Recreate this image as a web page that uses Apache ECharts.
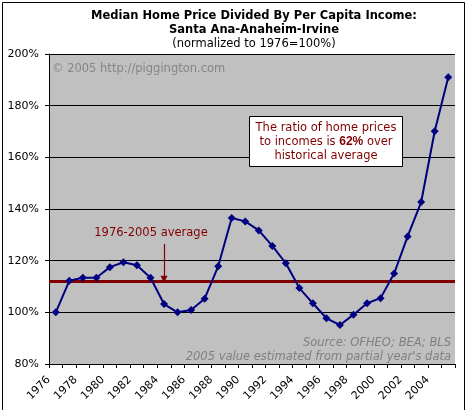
<!DOCTYPE html>
<html>
<head>
<meta charset="utf-8">
<title>Median Home Price Divided By Per Capita Income</title>
<script src="https://cdn.jsdelivr.net/npm/echarts@6/dist/echarts.min.js"></script>
<style>
  html, body { margin: 0; padding: 0; background: #fff; }
  #chart { width: 465px; height: 410px; }
</style>
</head>
<body>
<div id="chart"></div>
<script type="text/javascript">
    // data
    var years = ['1976', '1977', '1978', '1979', '1980', '1981', '1982', '1983', '1984', '1985',
                 '1986', '1987', '1988', '1989', '1990', '1991', '1992', '1993', '1994', '1995',
                 '1996', '1997', '1998', '1999', '2000', '2001', '2002', '2003', '2004', '2005'];
    var ratio = [100.0, 112.2, 113.4, 113.4, 117.5, 119.4, 118.2, 113.4, 103.2, 100.0,
                 100.9, 105.3, 117.8, 136.5, 135.2, 131.7, 125.7, 119.0, 109.4, 103.5,
                 97.7, 95.1, 99.1, 103.5, 105.5, 115.0, 129.4, 142.7, 170.1, 191.0];
    var average = 112.2;
    var yTicks = { min: 80, max: 200, step: 20 };

    var font = 'DejaVu Sans, Verdana, sans-serif';
    var chart = echarts.init(document.getElementById('chart'));

    var option = {
      backgroundColor: '#ffffff',
      animation: false,
      title: {
        text: 'Median Home Price Divided By Per Capita Income:\nSanta Ana-Anaheim-Irvine',
        subtext: '(normalized to 1976=100%)',
        left: 249,
        top: 4,
        textAlign: 'center',
        itemGap: 0,
        textStyle: { fontFamily: font, fontSize: 11.5, fontWeight: 'bold', color: '#000', lineHeight: 14 },
        subtextStyle: { fontFamily: font, fontSize: 11.5, color: '#000', lineHeight: 14 }
      },
      grid: { left: 49, top: 54, width: 406, height: 310, show: true, backgroundColor: '#c0c0c0', borderWidth: 0 },
      xAxis: {
        type: 'category',
        data: years,
        boundaryGap: true,
        axisLine: { lineStyle: { color: '#000', width: 1 } },
        axisTick: { show: true, interval: 0, length: 4, lineStyle: { color: '#000' } },
        axisLabel: { interval: 1, rotate: 45, margin: 7, padding: [0, 10, 0, 0], fontFamily: font, fontSize: 11, color: '#000' },
        splitLine: { show: false }
      },
      yAxis: {
        type: 'value',
        min: yTicks.min,
        max: yTicks.max,
        interval: yTicks.step,
        axisLine: { show: true, lineStyle: { color: '#000', width: 1 } },
        axisTick: { show: true, length: 4, lineStyle: { color: '#000' } },
        axisLabel: { formatter: '{value}%', margin: 10, fontFamily: font, fontSize: 11, color: '#000' },
        splitLine: { show: true, lineStyle: { color: '#000', width: 1 } }
      },
      series: [{
        type: 'line',
        data: ratio,
        symbol: 'diamond',
        symbolSize: 8,
        lineStyle: { color: '#000080', width: 2 },
        itemStyle: { color: '#000080' },
        z: 3,
        markLine: {
          silent: true,
          symbol: 'none',
          label: { show: false },
          z: 2,
          data: [
            // historical average
            { yAxis: average, lineStyle: { color: '#800000', width: 3, type: 'solid' } },
            // arrow pointing at the average
            [
              { coord: ['1984', 126.5], symbol: 'none', lineStyle: { color: '#800000', width: 1.2, type: 'solid' } },
              { coord: ['1984', average + 0.6], symbol: 'triangle', symbolSize: [7, 7], symbolRotate: 180 }
            ]
          ]
        }
      }],
      graphic: [
        // outer frame
        { type: 'rect', left: 0, top: 0, shape: { x: 0.5, y: 0.5, width: 462, height: 408.5 },
          style: { fill: 'none', stroke: '#000', lineWidth: 1 }, z: 10 },
        { type: 'text', left: 52, top: 63,
          style: { text: '\u00a9 2005 http://piggington.com', fill: '#858585', font: '11.5px ' + font } },
        { type: 'text', x: 151, y: 233,
          style: { text: '1976-2005 average', fill: '#800000', font: '11.5px ' + font, align: 'center', verticalAlign: 'middle' } },
        { type: 'rect', z: 5, shape: { x: 249.5, y: 116.5, width: 153, height: 50 },
          style: { fill: '#fff', stroke: '#000', lineWidth: 1 } },
        { type: 'text', z: 6, x: 326, y: 142,
          style: {
            text: 'The ratio of home prices\nto incomes is {b|62%} over\nhistorical average',
            rich: { b: { fontWeight: 'bold', fill: '#800000', font: 'bold 11.5px ' + font } },
            fill: '#800000', font: '11.5px ' + font, align: 'center', verticalAlign: 'middle', lineHeight: 14
          } },
        { type: 'text', z: 6, x: 451, y: 343,
          style: { text: 'Source: OFHEO; BEA; BLS', fill: '#808080', font: 'italic 11.5px ' + font, align: 'right', verticalAlign: 'middle' } },
        { type: 'text', z: 6, x: 451, y: 357,
          style: { text: "2005 value estimated from partial year's data", fill: '#808080', font: 'italic 11.5px ' + font, align: 'right', verticalAlign: 'middle' } }
      ]
    };

    chart.setOption(option);
</script>
</body>
</html>
